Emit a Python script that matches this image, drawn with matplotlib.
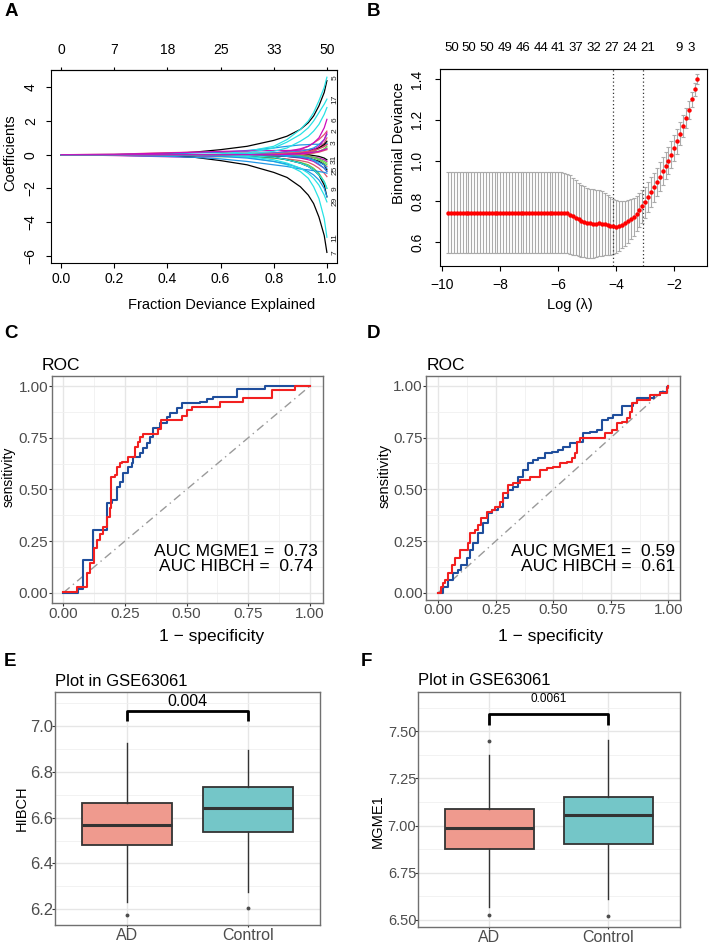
import matplotlib
matplotlib.use('Agg')
import matplotlib.pyplot as plt

plt.rcParams['font.family'] = ['Liberation Sans', 'DejaVu Sans']

# ---------------- Panel A data (coefficient paths) ----------------
fde_grid = [0.0, 0.2, 0.4, 0.5, 0.6, 0.7, 0.8, 0.85, 0.9, 0.93, 0.95, 0.97, 0.99, 1.0]
coef_paths = [
    [0, 0, 0.05, 0.15, 0.3, 0.5, 0.85, 1.1, 1.5, 1.9, 2.3, 2.9, 3.7, 4.4],
    [0, 0.03, 0.12, 0.15, 0.12, 0.1, 0.1, 0.15, 0.3, 0.5, 0.7, 0.9, 1.2, 1.4],
    [0, -0.03, -0.08, -0.1, -0.12, -0.12, -0.1, -0.05, 0, 0.1, 0.2, 0.35, 0.5, 0.7],
    [0, 0.01, 0.05, 0.1, 0.15, 0.25, 0.4, 0.5, 0.58, 0.6, 0.62, 0.62, 0.63, 0.65],
    [0, 0, 0, 0, 0.05, 0.2, 0.5, 0.9, 1.5, 2.0, 2.5, 3.2, 4.0, 4.6],
    [0, -0.05, -0.12, -0.15, -0.1, 0, 0.1, 0.2, 0.35, 0.5, 0.7, 1.0, 1.6, 2.1],
    [0, 0, -0.05, -0.15, -0.35, -0.6, -1.05, -1.35, -1.9, -2.4, -2.9, -3.7, -4.8, -5.8],
    [0, 0, 0, 0, -0.05, -0.1, -0.2, -0.25, -0.35, -0.45, -0.6, -0.8, -1.1, -1.3],
    [0, 0, 0, 0, -0.05, -0.1, -0.2, -0.3, -0.45, -0.6, -0.8, -1.1, -1.6, -2.0],
    [0, -0.03, -0.1, -0.15, -0.25, -0.4, -0.6, -0.7, -0.85, -0.9, -0.95, -1.0, -1.05, -1.1],
    [0, 0, 0, 0, -0.05, -0.15, -0.4, -0.6, -1.0, -1.4, -1.9, -2.6, -3.8, -4.9],
    [0, 0.02, 0.1, 0.15, 0.2, 0.22, 0.25, 0.25, 0.27, 0.3, 0.35, 0.4, 0.5, 0.6],
    [0, 0, 0, 0, 0, -0.05, -0.15, -0.3, -0.5, -0.7, -0.9, -1.2, -1.8, -2.5],
    [0, 0, 0, 0, 0, 0, 0, 0, 0.05, 0.1, 0.2, 0.4, 0.7, 1.0],
    [0, 0, 0, 0, 0, 0, 0, 0, 0.05, 0.1, 0.15, 0.2, 0.3, 0.4],
    [0, 0, 0, -0.05, -0.1, -0.2, -0.4, -0.55, -0.8, -1.0, -1.2, -1.5, -2.0, -2.5],
    [0, 0, 0, 0, 0, 0.1, 0.4, 0.75, 1.2, 1.6, 2.0, 2.5, 3.0, 3.3],
    [0, 0, 0, 0, 0, 0, -0.05, -0.1, -0.2, -0.3, -0.4, -0.6, -0.8, -1.0],
    [0, 0, 0, 0, 0, 0, 0, 0.05, 0.1, 0.2, 0.3, 0.4, 0.6, 0.8],
    [0, 0, 0, 0, 0, 0, 0, -0.05, -0.1, -0.2, -0.3, -0.4, -0.6, -0.7],
    [0, 0, 0, 0, 0, 0, 0, 0, -0.05, -0.1, -0.2, -0.3, -0.5, -0.6],
    [0, 0, 0, 0, 0, 0.05, 0.1, 0.15, 0.2, 0.3, 0.4, 0.6, 0.9, 1.2],
    [0, 0, 0, 0, 0, 0.05, 0.2, 0.4, 0.8, 1.1, 1.4, 1.8, 2.4, 2.8],
    [0, 0, 0, 0, 0, 0, 0, 0.05, 0.1, 0.15, 0.3, 0.5, 0.9, 1.3],
    [0, 0, 0, 0, 0, 0, -0.05, -0.1, -0.15, -0.2, -0.3, -0.4, -0.6, -0.9],
    [0, 0, 0, 0, 0, 0, 0.05, 0.1, 0.15, 0.2, 0.25, 0.35, 0.5, 0.6],
    [0, 0, 0, 0, 0, 0, 0, 0, 0, 0.05, 0.1, 0.2, 0.35, 0.5],
    [0, 0, 0, 0, 0, 0, -0.05, -0.1, -0.15, -0.2, -0.3, -0.45, -0.6, -0.8],
    [0, 0, 0, 0, 0, -0.1, -0.3, -0.5, -0.8, -1.1, -1.4, -1.8, -2.4, -2.8],
    [0, 0, 0, 0, 0, 0, 0, 0, -0.05, -0.1, -0.15, -0.2, -0.3, -0.4],
    [0, 0, 0, 0, 0, 0, 0, 0, 0, 0, -0.05, -0.1, -0.2, -0.3],
    [0, 0, 0, 0, 0, 0, 0, 0, 0, 0.05, 0.1, 0.15, 0.25, 0.3],
    [0, 0, 0, 0, 0, 0, 0, 0, -0.05, -0.1, -0.15, -0.25, -0.4, -0.5],
    [0, 0, 0, 0, 0, 0, 0, -0.05, -0.1, -0.2, -0.35, -0.55, -0.8, -1.0],
    [0, 0, 0, 0, 0, -0.05, -0.15, -0.3, -0.5, -0.7, -0.9, -1.2, -1.6, -2.0],
    [0, 0, 0, 0, 0, 0, 0, 0.02, 0.05, 0.1, 0.15, 0.2, 0.3, 0.35],
]
fde_ticks = [0.0, 0.2, 0.4, 0.6, 0.8, 1.0]
fde_tick_labels = ['0.0', '0.2', '0.4', '0.6', '0.8', '1.0']
fde_top_labels = ['0', '7', '18', '25', '33', '50']
coef_ticks = [-6, -4, -2, 0, 2, 4]
coef_tick_labels = ['\u22126', '\u22124', '\u22122', '0', '2', '4']

# ---------------- Panel B data (CV deviance) ----------------
log_lambda = [
    -9.8, -9.7, -9.6, -9.5, -9.4, -9.3, -9.2, -9.1, -9.0,
    -8.9, -8.8, -8.7, -8.6, -8.5, -8.4, -8.3, -8.2, -8.1, -8.0,
    -7.9, -7.8, -7.7, -7.6, -7.5, -7.4, -7.3, -7.2, -7.1, -7.0,
    -6.9, -6.8, -6.7, -6.6, -6.5, -6.4, -6.3, -6.2, -6.1, -6.0,
    -5.9, -5.8, -5.7, -5.6, -5.5, -5.4, -5.3, -5.2, -5.1, -5.0,
    -4.9, -4.8, -4.7, -4.6, -4.5, -4.4, -4.3, -4.2, -4.1, -4.0,
    -3.9, -3.8, -3.7, -3.6, -3.5, -3.4, -3.3, -3.2, -3.1, -3.0,
    -2.9, -2.8, -2.7, -2.6, -2.5, -2.4, -2.3, -2.2, -2.1, -2.0,
    -1.9, -1.8, -1.7, -1.6, -1.5, -1.4, -1.3, -1.2,
]
binom_dev = [
    0.746, 0.746, 0.746, 0.746, 0.746, 0.746, 0.746, 0.746, 0.746,
    0.746, 0.746, 0.746, 0.746, 0.746, 0.746, 0.746, 0.746, 0.746, 0.746,
    0.746, 0.746, 0.746, 0.746, 0.746, 0.746, 0.746, 0.746, 0.746, 0.746,
    0.746, 0.746, 0.746, 0.746, 0.746, 0.746, 0.746, 0.746, 0.746, 0.746,
    0.746, 0.745, 0.742, 0.736, 0.728, 0.720, 0.712, 0.705, 0.700, 0.696,
    0.693, 0.692, 0.692, 0.695, 0.692, 0.688, 0.684, 0.680, 0.678, 0.677,
    0.680, 0.686, 0.694, 0.703, 0.713, 0.725, 0.740, 0.757, 0.776, 0.797,
    0.822, 0.846, 0.870, 0.895, 0.922, 0.950, 0.975, 1.000, 1.030, 1.062,
    1.095, 1.132, 1.170, 1.210, 1.250, 1.300, 1.350, 1.400,
]
binom_se = [
    0.197, 0.197, 0.197, 0.197, 0.197, 0.197, 0.197, 0.197, 0.197,
    0.197, 0.197, 0.197, 0.197, 0.197, 0.197, 0.197, 0.197, 0.197, 0.197,
    0.197, 0.197, 0.197, 0.197, 0.197, 0.197, 0.197, 0.197, 0.197, 0.197,
    0.197, 0.197, 0.197, 0.197, 0.197, 0.197, 0.197, 0.197, 0.197, 0.197,
    0.197, 0.197, 0.195, 0.192, 0.188, 0.184, 0.180, 0.177, 0.174, 0.172,
    0.170, 0.168, 0.166, 0.163, 0.158, 0.152, 0.146, 0.140, 0.134, 0.128,
    0.122, 0.116, 0.110, 0.104, 0.098, 0.092, 0.087, 0.083, 0.079, 0.076,
    0.074, 0.072, 0.071, 0.070, 0.069, 0.068, 0.067, 0.066, 0.065, 0.063,
    0.060, 0.057, 0.053, 0.049, 0.044, 0.038, 0.032, 0.026,
]
lambda_min_log = -4.12
lambda_1se_log = -3.08
nzero_pos = [-9.68, -9.07, -8.45, -7.84, -7.22, -6.61, -5.99, -5.38, -4.76, -4.15, -3.53, -2.92, -1.83, -1.42]
nzero_labels = ['50', '50', '50', '49', '46', '44', '41', '37', '32', '27', '24', '21', '9', '3']
loglam_ticks = [-10, -8, -6, -4, -2]
loglam_tick_labels = ['\u221210', '\u22128', '\u22126', '\u22124', '\u22122']
dev_ticks = [0.6, 0.8, 1.0, 1.2, 1.4]
dev_tick_labels = ['0.6', '0.8', '1.0', '1.2', '1.4']

# ---------------- Panel C / D data (ROC) ----------------
roc_ticks = [0.0, 0.25, 0.5, 0.75, 1.0]
roc_tick_labels = ['0.00', '0.25', '0.50', '0.75', '1.00']
roc_minor = [0.125, 0.375, 0.625, 0.875]

C_blue_fpr = [0.0, 0.061, 0.081, 0.122, 0.176, 0.196, 0.216, 0.230, 0.243, 0.264, 0.277, 0.284, 0.311, 0.324,
              0.338, 0.351, 0.365, 0.392, 0.419, 0.432, 0.459, 0.480, 0.554, 0.581, 0.608, 0.703, 0.818, 1.0]
C_blue_tpr = [0.0, 0.02, 0.158, 0.306, 0.432, 0.448, 0.513, 0.537, 0.577, 0.61, 0.626, 0.658, 0.674, 0.698,
              0.723, 0.755, 0.795, 0.819, 0.852, 0.871, 0.892, 0.916, 0.924, 0.935, 0.948, 0.984, 1.0, 1.0]
C_red_fpr = [0.0, 0.054, 0.095, 0.108, 0.126, 0.135, 0.149, 0.162, 0.176, 0.189, 0.193, 0.209, 0.216, 0.230,
             0.236, 0.264, 0.291, 0.304, 0.311, 0.324, 0.385, 0.396, 0.480, 0.500, 0.520, 0.635, 0.730, 0.845,
             0.939, 1.0]
C_red_tpr = [0.006, 0.029, 0.094, 0.142, 0.215, 0.255, 0.284, 0.319, 0.368, 0.408, 0.561, 0.569, 0.61, 0.629,
             0.634, 0.658, 0.706, 0.731, 0.755, 0.768, 0.79, 0.835, 0.855, 0.884, 0.9, 0.923, 0.94, 0.981,
             1.0, 1.0]
C_auc_text = 'AUC MGME1 =  0.73\nAUC HIBCH =  0.74'

D_blue_fpr = [0.0, 0.022, 0.043, 0.065, 0.087, 0.101, 0.123, 0.138, 0.152, 0.174, 0.196, 0.217, 0.232, 0.261,
              0.283, 0.304, 0.326, 0.348, 0.370, 0.391, 0.413, 0.435, 0.464, 0.493, 0.522, 0.543, 0.572, 0.601,
              0.630, 0.659, 0.688, 0.710, 0.739, 0.761, 0.797, 0.848, 0.862, 0.935, 0.964, 0.993, 1.0]
D_blue_tpr = [0.0, 0.029, 0.061, 0.094, 0.11, 0.134, 0.166, 0.206, 0.239, 0.287, 0.335, 0.384, 0.4, 0.416,
              0.456, 0.497, 0.513, 0.561, 0.594, 0.626, 0.642, 0.65, 0.674, 0.682, 0.69, 0.706, 0.723, 0.731,
              0.771, 0.779, 0.787, 0.835, 0.844, 0.86, 0.903, 0.916, 0.94, 0.956, 0.973, 0.997, 1.0]
D_red_fpr = [0.0, 0.010, 0.019, 0.029, 0.043, 0.058, 0.072, 0.094, 0.130, 0.138, 0.159, 0.174, 0.188, 0.210,
             0.232, 0.246, 0.268, 0.283, 0.304, 0.326, 0.355, 0.399, 0.442, 0.471, 0.500, 0.529, 0.558, 0.580,
             0.594, 0.601, 0.616, 0.725, 0.754, 0.775, 0.797, 0.819, 0.833, 0.841, 0.862, 0.920, 0.964, 0.993,
             1.0]
D_red_tpr = [0.0, 0.029, 0.045, 0.061, 0.094, 0.134, 0.166, 0.206, 0.239, 0.287, 0.303, 0.327, 0.36, 0.392,
             0.4, 0.416, 0.44, 0.481, 0.521, 0.529, 0.545, 0.561, 0.594, 0.602, 0.61, 0.626, 0.634, 0.65,
             0.674, 0.731, 0.747, 0.771, 0.787, 0.819, 0.827, 0.844, 0.876, 0.916, 0.932, 0.956, 0.965, 0.989,
             1.0]
D_auc_text = 'AUC MGME1 =  0.59\nAUC HIBCH =  0.61'

# ---------------- Panel E / F data (boxplots) ----------------
groups = ['AD', 'Control']
E_stats = [
    dict(med=6.569, q1=6.481, q3=6.666, whislo=6.233, whishi=6.925, fliers=[6.175]),
    dict(med=6.644, q1=6.539, q3=6.735, whislo=6.277, whishi=6.896, fliers=[6.204]),
]
E_ticks = [6.2, 6.4, 6.6, 6.8, 7.0]
E_tick_labels = ['6.2', '6.4', '6.6', '6.8', '7.0']
E_minor = [6.3, 6.5, 6.7, 6.9, 7.1]
E_bracket = (7.067, 7.02)
E_p = '0.004'
E_p_y = 7.106

F_stats = [
    dict(med=6.985, q1=6.875, q3=7.086, whislo=6.566, whishi=7.373, fliers=[7.451, 6.528]),
    dict(med=7.055, q1=6.900, q3=7.151, whislo=6.610, whishi=7.456, fliers=[6.519]),
]
F_ticks = [6.50, 6.75, 7.00, 7.25, 7.50]
F_tick_labels = ['6.50', '6.75', '7.00', '7.25', '7.50']
F_minor = [6.625, 6.875, 7.125, 7.375, 7.625]
F_bracket = (7.59, 7.535)
F_p = '0.0061'
F_p_y = 7.672

# ================= Figure =================
W, H = 709, 946
fig = plt.figure(figsize=(W / 100, H / 100), dpi=100)


def axes_px(l, t, r, b):
    return fig.add_axes([l / W, 1 - b / H, (r - l) / W, (b - t) / H])


def ftext(x, y, s, **kw):
    fig.text(x / W, 1 - y / H, s, **kw)


# ---------- A ----------
axA = axes_px(51, 70, 337, 263)
palette = ['black', '#DF536B', '#61D04F', '#2297E6', '#28E2E5', '#CD0BBC']
for i, path in enumerate(coef_paths):
    axA.plot(fde_grid, path, color=palette[i % 6], lw=0.9)
# variable labels at the right edge (clipped by the box, as glmnet draws them)
last_y = None
for i in sorted(range(len(coef_paths)), key=lambda k: -coef_paths[k][-1]):
    yv = coef_paths[i][-1]
    if last_y is None or last_y - yv >= 0.6:
        axA.text(1.016, yv, str(i + 1), rotation=90, fontsize=6, ha='left', va='center',
                 clip_on=True, color='#222222')
        last_y = yv
axA.set_xlim(-0.038, 1.038)
axA.set_ylim(-6.43, 5.03)
axA.set_xticks(fde_ticks, labels=fde_tick_labels)
axA.set_yticks(coef_ticks, labels=coef_tick_labels, rotation=90, va='center')
axA.tick_params(axis='x', length=3.5, pad=3, labelsize=10)
axA.tick_params(axis='y', length=3.5, pad=6, labelsize=10)
for s in axA.spines.values():
    s.set_linewidth(0.8)
secA = axA.secondary_xaxis('top')
secA.set_xticks(fde_ticks, labels=fde_top_labels)
secA.tick_params(length=2, pad=7, labelsize=10)
ftext(222, 305, 'Fraction Deviance Explained', fontsize=10.5, ha='center', va='center')
ftext(10, 153, 'Coefficients', fontsize=10.5, ha='center', va='center', rotation=90)

# ---------- B ----------
axB = axes_px(440, 69, 707, 266)
axB.errorbar(log_lambda, binom_dev, yerr=binom_se, fmt='none', ecolor='#ABABAB',
             elinewidth=0.8, capsize=1.6, capthick=0.8, zorder=1)
axB.plot(log_lambda, binom_dev, 'o', color='#FF0000', ms=3.2, mec='none', zorder=3)
axB.axvline(lambda_min_log, ls=(0, (1, 2)), color='#333333', lw=0.9)
axB.axvline(lambda_1se_log, ls=(0, (1, 2)), color='#333333', lw=0.9)
axB.set_xlim(-10.08, -0.87)
axB.set_ylim(0.484, 1.449)
axB.set_xticks(loglam_ticks, labels=loglam_tick_labels)
axB.set_yticks(dev_ticks, labels=dev_tick_labels, rotation=90, va='center')
axB.tick_params(axis='x', length=3.5, pad=5, labelsize=10)
axB.tick_params(axis='y', length=3.5, pad=8, labelsize=10)
for s in axB.spines.values():
    s.set_linewidth(0.8)
secB = axB.secondary_xaxis('top')
secB.set_xticks(nzero_pos, labels=nzero_labels)
secB.tick_params(length=0, pad=11, labelsize=9.5)
ftext(570, 305, 'Log (\u03bb)', fontsize=10.5, ha='center', va='center')
ftext(399, 143, 'Binomial Deviance', fontsize=10.5, ha='center', va='center', rotation=90)


# ---------- ggplot-like helpers ----------
def gg_style(ax):
    ax.set_facecolor('white')
    for s in ax.spines.values():
        s.set_color('#707070')
        s.set_linewidth(1.0)
    ax.grid(True, which='major', color='#E6E6E6', lw=1.0)
    ax.grid(True, which='minor', color='#F0F0F0', lw=0.6)
    ax.set_axisbelow(True)
    ax.tick_params(which='major', length=2.0, width=0.8, color='#333333', labelcolor='#4D4D4D', pad=0.5)
    ax.tick_params(which='minor', length=0)


def roc_panel(ax, bfpr, btpr, rfpr, rtpr):
    gg_style(ax)
    ax.plot([0, 1], [0, 1], color='#9A9A9A', lw=1.0, ls=(0, (6, 3, 1, 3)))
    ax.plot(bfpr, btpr, drawstyle='steps-post', color='#1F4E9C', lw=1.5)
    ax.plot(rfpr, rtpr, drawstyle='steps-post', color='#F22020', lw=1.5)
    ax.set_xticks(roc_ticks, labels=roc_tick_labels)
    ax.set_yticks(roc_ticks, labels=roc_tick_labels)
    ax.set_xticks(roc_minor, minor=True)
    ax.set_yticks(roc_minor, minor=True)
    ax.tick_params(axis='both', which='major', labelsize=11)


# ---------- C ----------
axC = axes_px(51.7, 375.7, 323.3, 603.3)
roc_panel(axC, C_blue_fpr, C_blue_tpr, C_red_fpr, C_red_tpr)
axC.set_xlim(-0.047, 1.054)
axC.set_ylim(-0.051, 1.05)
axC.text(0.70, 0.165, C_auc_text, fontsize=12.5, ha='center', va='center', linespacing=1.0)
ftext(42, 365, 'ROC', fontsize=12.5, ha='left', va='center')
ftext(212, 637, '1 \u2212 specificity', fontsize=12.5, ha='center', va='center')
ftext(9, 477, 'sensitivity', fontsize=10, ha='center', va='center', rotation=90)

# ---------- D ----------
axD = axes_px(426, 376, 680, 600)
roc_panel(axD, D_blue_fpr, D_blue_tpr, D_red_fpr, D_red_tpr)
axD.set_xlim(-0.053, 1.05)
axD.set_ylim(-0.035, 1.048)
axD.text(1.03, 0.165, D_auc_text, fontsize=12.5, ha='right', va='center', linespacing=1.0,
         multialignment='right')
ftext(427, 365, 'ROC', fontsize=12.5, ha='left', va='center')
ftext(551, 637, '1 \u2212 specificity', fontsize=12.5, ha='center', va='center')
ftext(385, 476, 'sensitivity', fontsize=10.5, ha='center', va='center', rotation=90)


# ---------- E / F ----------
def box_panel(ax, stats, ticks, tick_labels, minor, bracket, ptxt, py, psize, ysize):
    gg_style(ax)
    st = []
    for s, g in zip(stats, groups):
        d = dict(s)
        d['label'] = g
        st.append(d)
    bp = ax.bxp(st, positions=[1, 2], widths=0.75, patch_artist=True, showcaps=False,
                boxprops=dict(edgecolor='#333333', linewidth=1.3),
                medianprops=dict(color='#333333', linewidth=2.2),
                whiskerprops=dict(color='#333333', linewidth=1.0),
                flierprops=dict(marker='o', markersize=2.8, markerfacecolor='#4D4D4D',
                                markeredgecolor='none'))
    for patch, col in zip(bp['boxes'], ['#EF9A8E', '#74C6C8']):
        patch.set_facecolor(col)
    ax.set_xlim(0.4, 2.6)
    ax.set_yticks(ticks, labels=tick_labels)
    ax.set_yticks(minor, minor=True)
    ax.grid(False, which='minor', axis='x')
    top, low = bracket
    ax.plot([1, 1, 2, 2], [low, top, top, low], color='black', lw=2.0, solid_capstyle='butt')
    ax.text(1.5, py, ptxt, fontsize=psize, ha='center', va='center', color='black')
    ax.tick_params(axis='y', which='major', labelsize=ysize, pad=-1)
    ax.tick_params(axis='x', which='major', labelsize=11.5, length=1.5, pad=0.5)


axE = axes_px(55, 691.7, 320, 925)
box_panel(axE, E_stats, E_ticks, E_tick_labels, E_minor, E_bracket, E_p, E_p_y, 11.5, 12)
axE.set_ylim(6.131, 7.15)
ftext(55, 682, 'Plot in GSE63061', fontsize=12, ha='left', va='center')
ftext(22, 808, 'HIBCH', fontsize=10.5, ha='center', va='center', rotation=90)

axF = axes_px(417.7, 691.7, 680, 927)
box_panel(axF, F_stats, F_ticks, F_tick_labels, F_minor, F_bracket, F_p, F_p_y, 8.5, 10.5)
axF.set_ylim(6.462, 7.71)
ftext(418, 680, 'Plot in GSE63061', fontsize=12, ha='left', va='center')
ftext(378, 821, 'MGME1', fontsize=10.5, ha='center', va='center', rotation=90)

# ---------- panel letters ----------
for lab, x, y in [('A', 11, 12), ('B', 374, 12), ('C', 11, 333), ('D', 374, 333), ('E', 10, 661), ('F', 366, 661)]:
    ftext(x, y, lab, fontsize=13.5, fontweight='bold', ha='center', va='center')

fig.savefig('out.png', dpi=100)
